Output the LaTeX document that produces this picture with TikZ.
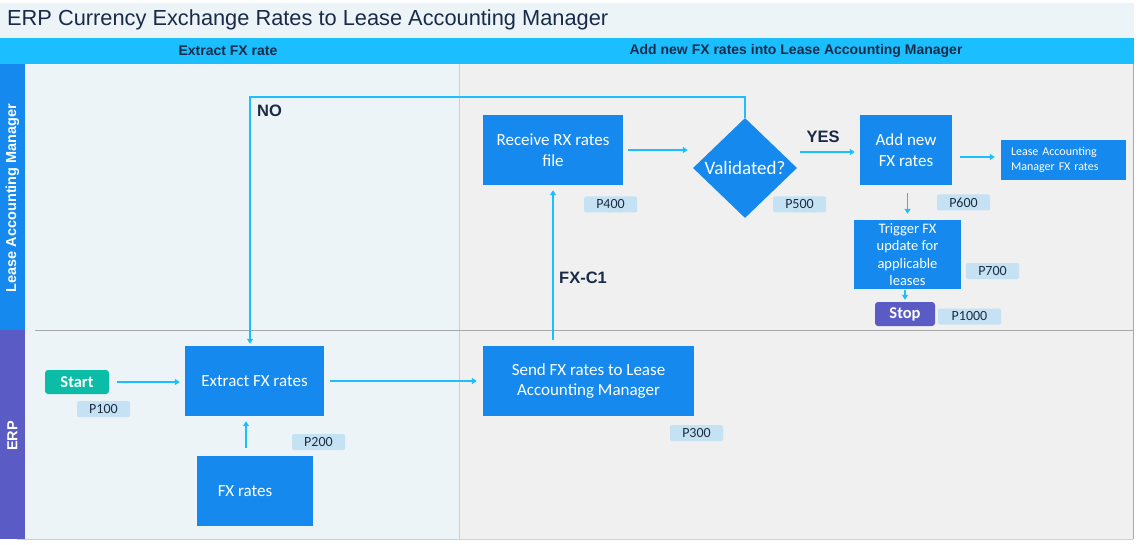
\documentclass[tikz,border=0pt]{standalone}
\usepackage{fontspec}
\setmainfont{Liberation Sans}
\newfontfamily\boxfont{Carlito}
\usetikzlibrary{arrows.meta,shapes.geometric,calc}
\definecolor{titlebg}{HTML}{EDF4F8}
\definecolor{bandcyan}{HTML}{1BBFFF}
\definecolor{lamblue}{HTML}{1589EE}
\definecolor{erppurple}{HTML}{5A5BC4}
\definecolor{leftcol}{HTML}{EDF4F8}
\definecolor{rightcol}{HTML}{F0F0F0}
\definecolor{boxblue}{HTML}{1589EE}
\definecolor{flowcyan}{HTML}{1BBFFF}
\definecolor{tagbg}{HTML}{C4E2F3}
\definecolor{tagtext}{HTML}{1E2D40}
\definecolor{navy}{HTML}{1A2B49}
\definecolor{startteal}{HTML}{0BBCA6}
\definecolor{sepgray}{HTML}{A8A8A8}
\definecolor{divgray}{HTML}{CFCFCF}
\tikzset{
  procbox/.style={fill=boxblue, draw=none, text=white, inner sep=0pt, align=center,
    font=\boxfont\fontsize{17}{20.5}\selectfont},
  tagbox/.style={fill=tagbg, draw=none, rounded corners=1.5pt, text=tagtext, inner sep=0pt,
    minimum width=53pt, minimum height=16pt, font=\boxfont\fontsize{14}{15}\selectfont},
  termbox/.style={draw=none, rounded corners=3pt, text=white, inner sep=0pt,
    minimum height=24pt, font=\boxfont\bfseries\fontsize{16.5}{18}\selectfont},
  flow/.style={draw=flowcyan, line width=1.6pt, -{Triangle[length=5pt,width=6pt]}},
  flowlabel/.style={text=navy, font=\bfseries\fontsize{16.5}{19}\selectfont, inner sep=0pt},
  header/.style={text=navy, font=\bfseries\fontsize{14}{16}\selectfont, inner sep=0pt},
  lanelabel/.style={text=white, rotate=90, font=\bfseries\fontsize{14.5}{16}\selectfont, inner sep=0pt}
}
\begin{document}
\begin{tikzpicture}[x=1pt,y=-1pt]
\useasboundingbox (0,0) rectangle (1139,545);
\fill[white] (0,0) rectangle (1139,545);
% title band
\fill[titlebg] (0,3) rectangle (1134,38);
\node[anchor=west, text=navy, inner sep=0pt, font=\fontsize{21.8}{25}\selectfont] (title) at (7,20)
  {ERP Currency Exchange Rates to Lease Accounting Manager};
% header band
\fill[bandcyan] (0,38) rectangle (1134,64);
\node[header] (h1) at (228,51) {Extract FX rate};
\node[header] (h2) at (796,51) {Add new FX rates into Lease Accounting Manager};
% columns
\fill[leftcol] (25,64) rectangle (459,539);
\fill[rightcol] (459,64) rectangle (1133,539);
\draw[divgray, line width=0.8pt] (459,64) -- (459,539);
\draw[sepgray, line width=1pt] (1133,64) -- (1133,539);
\draw[divgray, line width=1pt] (17,539.5) -- (1133,539.5);
\draw[sepgray, line width=1pt] (35,330) -- (1133,330);
% lanes
\fill[lamblue] (0,64) rectangle (25,330);
\fill[erppurple] (0,330) rectangle (25,539);
\node[lanelabel] (lam) at (12.5,198) {Lease Accounting Manager};
\node[lanelabel] (erp) at (12.5,436) {ERP};

% process nodes
\node[procbox, minimum width=140pt, minimum height=70pt] (rec) at (553,150) {Receive RX rates\\file};
\node[diamond, fill=boxblue, text=white, inner sep=0pt, minimum width=104pt, minimum height=100pt,
  font=\boxfont\fontsize{19}{22}\selectfont] (val) at (745,168) {Validated?};
\node[procbox, minimum width=92pt, minimum height=70pt] (add) at (906,150) {Add new\\FX rates};
\node[procbox, minimum width=125pt, minimum height=40pt, text width=105pt, align=left,
  font=\boxfont\fontsize{12}{15}\selectfont] (lamfx) at (1063.5,160) {Lease Accounting\\Manager FX rates};
\node[procbox, minimum width=107pt, minimum height=69pt,
  font=\boxfont\fontsize{14.5}{17.5}\selectfont] (trig) at (907.5,254.5) {Trigger FX\\update for\\applicable\\leases};
\node[termbox, fill=erppurple, minimum width=60pt] (stop) at (905,314) {Stop};
\node[procbox, minimum width=139pt, minimum height=70pt] (ext) at (254.5,381) {Extract FX rates};
\node[termbox, fill=startteal, minimum width=64pt] (start) at (77,382) {Start};
\node[procbox, minimum width=116pt, minimum height=70pt] (fx) at (255,491) {\hspace*{-20pt}FX rates};
\node[procbox, minimum width=211pt, minimum height=70pt] (send) at (588.5,381) {Send FX rates to Lease\\Accounting Manager};

% tags
\node[tagbox] (p100) at (103.5,409) {P100};
\node[tagbox] (p200) at (318.5,442) {P200};
\node[tagbox] (p300) at (696.5,433) {P300};
\node[tagbox] (p400) at (610.5,204.5) {P400};
\node[tagbox] (p500) at (799.5,204.5) {P500};
\node[tagbox] (p600) at (963.5,202.5) {P600};
\node[tagbox] (p700) at (992.5,271) {P700};
\node[tagbox, minimum width=63pt] (p1000) at (969.5,316.5) {P1000};

% labels
\node[flowlabel, anchor=west] (nolbl) at (257,111) {NO};
\node[flowlabel] (yeslbl) at (823,137) {YES};
\node[flowlabel] (fxc1) at (583,278) {FX-C1};

% connectors
\coordinate (loopy) at (0,97);
\coordinate (noend) at ($(ext.north)+(-4.5,0)$);
\coordinate (fxtop) at ($(fx.north)+(-9,0)$);
\draw[flow, shorten >=2pt] (val.north) -- (val.north |- loopy) -| (noend);
\draw[flow, shorten <=8pt, shorten >=5pt] (start.east) -- (ext.west |- start.east);
\draw[flow, shorten <=6pt, shorten >=6pt] (ext.east) -- (send.west |- ext.east);
\draw[flow, shorten <=8pt, shorten >=5pt] (fxtop) -- (fxtop |- ext.south);
\draw[flow, shorten <=6pt, shorten >=5pt] (rec.south |- send.north) -- (rec.south);
\draw[flow, shorten <=5pt, shorten >=5pt] (rec.east) -- (val.west |- rec.east);
\coordinate (valout) at ($(val.east)+(0,-16)$);
\draw[flow, shorten <=3pt, shorten >=5pt] (valout) -- (add.west |- valout);
\coordinate (addout) at ($(add.east)+(0,7)$);
\draw[flow, shorten <=8pt, shorten >=6pt] (addout) -- (lamfx.west |- addout);
\draw[flow, shorten <=8pt, shorten >=6pt] (add.south -| trig.north) -- (trig.north);
\draw[flow, shorten <=1pt, shorten >=2pt] (trig.south -| stop.north) -- (stop.north);
\end{tikzpicture}
\end{document}
